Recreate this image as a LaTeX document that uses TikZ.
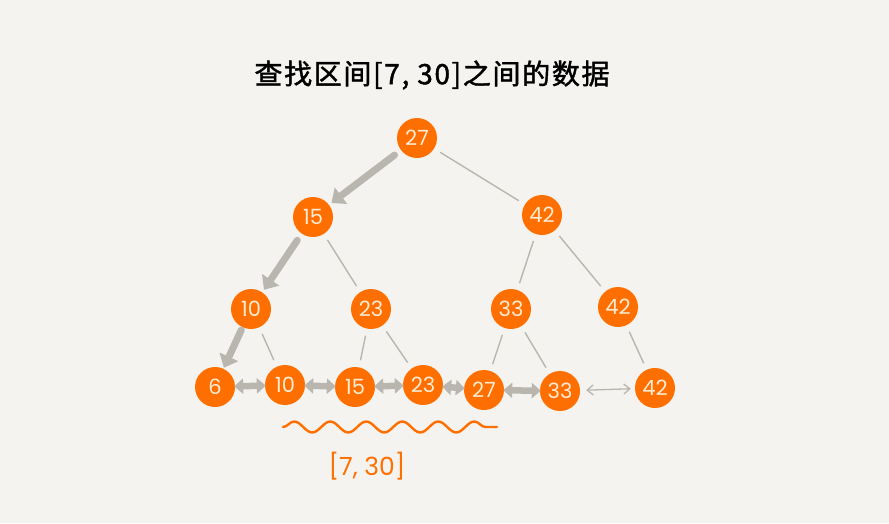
\documentclass[tikz,border=0pt]{standalone}
\usepackage{fontspec}
\setmainfont{Poppins}
\newfontfamily\cjkfont[FakeBold=1.5,LetterSpace=6]{Noto Sans CJK SC}
\usetikzlibrary{arrows.meta,decorations.pathmorphing}
\definecolor{bg}{HTML}{F4F3EF}
\definecolor{orng}{HTML}{FF6F00}
\definecolor{cream}{HTML}{FBEBD3}
\definecolor{gry}{HTML}{B8B6AF}
\tikzset{
  nd/.style={circle,fill=orng,draw=none,minimum size=40pt,inner sep=0pt,
    text=cream,font=\fontsize{21}{21}\selectfont},
  edge/.style={draw=gry,line width=1.4pt,shorten <=7pt,shorten >=7pt},
  bigarrow/.style={draw=gry,line width=7pt,line cap=round,
    -{Triangle[length=12pt,width=20pt]},shorten <=8pt,shorten >=3pt},
  dblarrow/.style={draw=gry,line width=6.5pt,
    {Triangle[length=9pt,width=15pt]}-{Triangle[length=9pt,width=15pt]},shorten <=-1pt,shorten >=-1pt},
  thinarrow/.style={draw=gry,line width=1.3pt,
    {Straight Barb[length=6pt,width=10pt]}-{Straight Barb[length=6pt,width=10pt]},shorten <=6pt,shorten >=4pt}
}
\begin{document}
\begin{tikzpicture}[x=1pt,y=-1pt]
\fill[bg] (0,0) rectangle (889,523);
\useasboundingbox (0,0) rectangle (889,523);
\node[font=\cjkfont\fontsize{28}{28}\selectfont,text=black] (title) at (432,75) {查找区间[7, 30]之间的数据};
% internal nodes
\node[nd] (r) at (417,138) {27};
\node[nd] (a) at (313,217) {15};
\node[nd] (b) at (542,215) {42};
\node[nd] (c) at (251,309) {10};
\node[nd] (d) at (371,309) {23};
\node[nd] (e) at (511,309) {33};
\node[nd] (f) at (618,307) {42};
% leaves
\node[nd] (l1) at (215,387) {6};
\node[nd] (l2) at (285,385) {10};
\node[nd] (l3) at (355,387) {15};
\node[nd] (l4) at (423,385) {23};
\node[nd] (l5) at (484,390) {27};
\node[nd] (l6) at (560,391) {33};
\node[nd] (l7) at (655,388) {42};
% thin edges
\draw[edge] (r) -- (b);
\draw[edge] (a) -- (d);
\draw[edge] (b) -- (e);
\draw[edge] (b) -- (f);
\draw[edge] (c) -- (l2);
\draw[edge] (d) -- (l3);
\draw[edge] (d) -- (l4);
\draw[edge] (e) -- (l5);
\draw[edge] (e) -- (l6);
\draw[edge] (f) -- (l7);
% search path
\draw[bigarrow] (r) -- (a);
\draw[bigarrow] (a) -- (c);
\draw[bigarrow,shorten <=3pt,shorten >=1pt] (c) -- (l1);
% leaf links
\draw[dblarrow] (l1) -- (l2);
\draw[dblarrow] (l2) -- (l3);
\draw[dblarrow] (l3) -- (l4);
\draw[dblarrow] (l4) -- (l5);
\draw[dblarrow] (l5) -- (l6);
\draw[thinarrow] (l6) -- (l7);
% wavy range marker
\coordinate (w1) at (283,427);
\coordinate (w2) at (497,427);
\draw[orng,line width=2.4pt,line cap=round,decorate,
  decoration={snake,amplitude=5.5pt,segment length=36pt}] (w1) -- (w2);
\node[text=orng,font=\fontsize{25}{25}\selectfont] (range) at (367,466) {[7, 30]};
\end{tikzpicture}
\end{document}
